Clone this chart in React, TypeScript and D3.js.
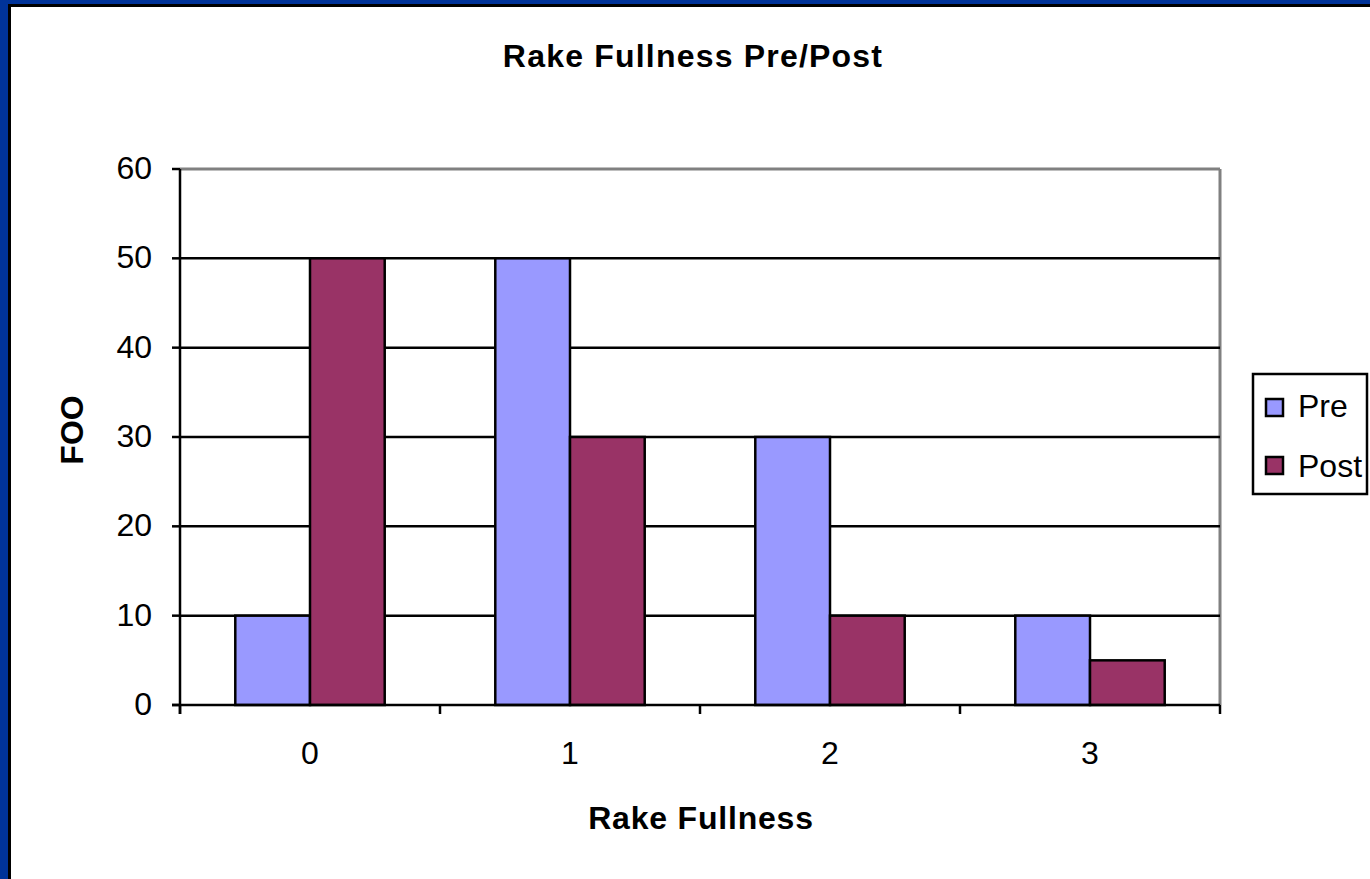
import React from "react";
import * as d3 from "d3";

const categories = ["0", "1", "2", "3"];
const seriesNames = ["Pre", "Post"];
const preValues = [10, 50, 30, 10];
const postValues = [50, 30, 10, 5];
const yTicks = [0, 10, 20, 30, 40, 50, 60];

const colors = ["#9999FF", "#993366"];

export default function App() {
  const W = 1370, H = 879;
  const left = 180, right = 1220, top = 169, bottom = 705;
  const x = d3.scaleBand<string>().domain(categories).range([left, right]);
  const inner = d3.scaleBand<string>().domain(seriesNames).range([0, x.bandwidth()]).paddingOuter(0.74).paddingInner(0);
  const y = d3.scaleLinear().domain([0, 60]).range([bottom, top]);
  const series = [preValues, postValues];
  const font = "Arial, 'Liberation Sans', sans-serif";
  const fs = 32;

  return (
    <div style={{ position: "absolute", left: 0, top: 0 }}>
      <svg width={W} height={H} style={{ display: "block" }}>
        <rect x={0} y={0} width={W} height={H} fill="#003399" />
        <rect x={8} y={4} width={W} height={H} fill="#000" />
        <rect x={11} y={7} width={W} height={H} fill="#fff" />
        <text x={693} y={67} textAnchor="middle" fontFamily={font} fontWeight="bold" fontSize={fs} letterSpacing={1.2}>Rake Fullness Pre/Post</text>

        {/* plot border top/right gray */}
        <line x1={left} x2={right} y1={top} y2={top} stroke="#808080" strokeWidth={3} />
        <line x1={right} x2={right} y1={top} y2={bottom} stroke="#808080" strokeWidth={3} />

        {/* gridlines */}
        {yTicks.filter(t => t > 0 && t < 60).map(t => (
          <line key={t} x1={left} x2={right} y1={y(t)} y2={y(t)} stroke="#000" strokeWidth={2.5} />
        ))}

        {/* bars */}
        {categories.map((c, i) => (
          <g key={c}>
            {seriesNames.map((s, j) => (
              <rect key={s}
                x={(x(c) as number) + (inner(s) as number)}
                y={y(series[j][i])}
                width={inner.bandwidth()}
                height={bottom - y(series[j][i])}
                fill={colors[j]} stroke="#000" strokeWidth={2.5} />
            ))}
          </g>
        ))}

        {/* axes */}
        <line x1={left} x2={left} y1={top} y2={bottom + 9} stroke="#000" strokeWidth={2.5} />
        <line x1={left - 8} x2={right} y1={bottom} y2={bottom} stroke="#000" strokeWidth={2.5} />
        {yTicks.map(t => (
          <g key={t}>
            <line x1={left - 8} x2={left} y1={y(t)} y2={y(t)} stroke="#000" strokeWidth={2.5} />
            <text x={152} y={y(t) + 10} textAnchor="end" fontFamily={font} fontSize={fs}>{t}</text>
          </g>
        ))}
        {[...categories.map(c => x(c) as number), right].map((v, i) => (
          <line key={i} x1={v} x2={v} y1={bottom} y2={bottom + 9} stroke="#000" strokeWidth={2.5} />
        ))}
        {categories.map(c => (
          <text key={c} x={(x(c) as number) + x.bandwidth() / 2} y={764} textAnchor="middle" fontFamily={font} fontSize={fs}>{c}</text>
        ))}
        <text x={701} y={829} textAnchor="middle" fontFamily={font} fontWeight="bold" fontSize={fs} letterSpacing={0.8}>Rake Fullness</text>
        <text transform="translate(83,430) rotate(-90)" textAnchor="middle" fontFamily={font} fontWeight="bold" fontSize={fs}>FOO</text>

        {/* legend */}
        <rect x={1253} y={374} width={114} height={120} fill="#fff" stroke="#000" strokeWidth={2.5} />
        {seriesNames.map((s, j) => (
          <g key={s}>
            <rect x={1266} y={399 + j * 58} width={17} height={17} fill={colors[j]} stroke="#000" strokeWidth={2.5} />
            <text x={1298} y={417 + j * 60} fontFamily={font} fontSize={fs}>{s}</text>
          </g>
        ))}
      </svg>
    </div>
  );
}
